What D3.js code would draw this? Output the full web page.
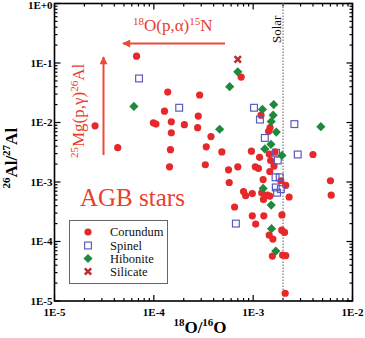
<!DOCTYPE html>
<html lang="en">
<head>
  <meta charset="utf-8">
  <title>26Al/27Al vs 18O/16O</title>
  <script src="https://cdn.jsdelivr.net/npm/d3@7/dist/d3.min.js"></script>
  <style>
    body { margin: 0; background: #fff; }
    svg { display: block; font-family: 'Liberation Serif', 'Times New Roman', serif; }
    .tick-label { font-size: 11px; font-weight: bold; fill: #000; }
    .axis-title { font-size: 17px; font-weight: bold; fill: #000; }
    .note { fill: #e8402f; }
  </style>
</head>
<body>
<div id="chart"></div>
<script>
// values: [18O/16O, 26Al/27Al]
const corundum = [
  [2.56e-5, 8.8e-3], [4.33e-5, 3.77e-3], [6.7e-5, 0.13], [1.38e-4, 3.24e-2], [1.28e-4, 1.55e-2],
  [9.9e-5, 9.9e-3], [1.05e-4, 9.4e-3], [1.5e-4, 1.03e-2], [1.5e-4, 6.7e-3], [1.47e-4, 3.5e-3],
  [1.44e-4, 1.8e-3], [2.03e-4, 9.2e-3], [2.89e-4, 2.9e-2], [2.8e-4, 1.28e-2], [2.76e-4, 8.2e-3],
  [3.76e-4, 5.8e-3], [3.37e-4, 3.9e-3], [3.3e-4, 1.95e-3], [4.84e-4, 3.2e-3], [7.57e-4, 5.8e-2],
  [5.65e-4, 1.6e-3], [5.74e-4, 9.8e-4], [7.0e-4, 1.8e-3], [6.5e-4, 3.8e-4], [8.0e-4, 6.9e-4],
  [8.4e-4, 5.9e-4], [9.8e-4, 6.4e-4], [9.6e-4, 3.3e-3], [9.8e-4, 2.7e-4], [1.06e-3, 1.96e-4],
  [1.05e-3, 1.8e-3], [1.13e-3, 1.7e-3], [1.16e-3, 2.6e-3], [1.2e-3, 1.33e-2], [1.26e-3, 1.1e-3],
  [1.22e-3, 6.6e-4], [1.27e-3, 5.1e-4], [1.28e-3, 2.7e-4], [1.39e-3, 6.0e-4], [1.43e-3, 7.1e-3],
  [1.48e-3, 8.2e-3], [1.45e-3, 2.95e-3], [1.5e-3, 2.3e-3], [1.47e-3, 1.5e-3], [1.47e-3, 5.8e-4],
  [1.45e-3, 1.28e-4], [1.58e-3, 1.1e-4], [1.56e-3, 5.7e-5], [1.62e-3, 1.85e-3], [1.66e-3, 3.2e-3],
  [1.9e-3, 1.05e-3], [1.95e-3, 2.8e-4], [1.94e-3, 1.55e-4], [2.07e-3, 1.42e-4], [1.98e-3, 5.9e-5],
  [2.13e-3, 5.8e-5], [2.1e-3, 1.35e-5], [2.13e-3, 8.8e-4], [2.3e-3, 5.6e-4], [4.0e-3, 2.9e-3],
  [6.0e-3, 1.05e-3], [6.1e-3, 6.0e-4]
];
const spinel = [
  [7.1e-5, 5.5e-2], [1.8e-4, 1.77e-2], [1.02e-3, 1.77e-2], [1.17e-3, 1.12e-2], [1.31e-3, 5.5e-3],
  [2.6e-3, 9.4e-3], [2.81e-3, 2.9e-3], [1.7e-3, 3.1e-3], [1.77e-3, 2.3e-3], [1.68e-3, 1.2e-3],
  [1.85e-3, 1.2e-3], [1.69e-3, 8.1e-4], [1.9e-3, 7.6e-4], [1.74e-3, 6.6e-4], [6.7e-4, 2.0e-4]
];
const hibonite = [
  [6.3e-5, 1.86e-2], [5.8e-4, 4.0e-2], [7.0e-4, 7.1e-2], [4.6e-4, 7.7e-3], [1.24e-3, 1.66e-2],
  [1.61e-3, 2.0e-2], [1.59e-3, 1.33e-2], [1.52e-3, 1.04e-2], [1.71e-3, 6.9e-3], [1.51e-3, 4.3e-3],
  [1.31e-3, 3.6e-3], [1.95e-3, 2.8e-3], [1.26e-3, 7.8e-4], [1.52e-3, 4.1e-4], [1.53e-3, 1.64e-4],
  [1.69e-3, 6.9e-5], [4.8e-3, 8.5e-3]
];
const silicate = [[7.0e-4, 0.115]];

const solarRatio = 2.0e-3;
const xTicks = [1e-5, 1e-4, 1e-3, 1e-2];
const xTickLabels = ["1E-5", "1E-4", "1E-3", "1E-2"];
const yTicks = [1e-5, 1e-4, 1e-3, 1e-2, 1e-1, 1];
const yTickLabels = ["1E-5", "1E-4", "1E-3", "1E-2", "1E-1", "1E+0"];
const legendNames = ["Corundum", "Spinel", "Hibonite", "Silicate"];

const W = 365, H = 338;
const pL = 54.5, pR = 352.5, pT = 3.5, pB = 301;

const RED = "#e6282b", BLUE = "#5a5cc0", GREEN = "#1f8a3e", DARKRED = "#bf2b2e";

const svg = d3.select("#chart").append("svg").attr("width", W).attr("height", H);

const x = d3.scaleLog().domain([1e-5, 1e-2]).range([pL, pR]);
const y = d3.scaleLog().domain([1e-5, 1]).range([pB, pT]);

// minor ticks for each decade
const minor = (lo, hi) => {
  const out = [];
  for (let e = lo; e < hi; e++) for (let k = 2; k <= 9; k++) out.push(k * Math.pow(10, e));
  return out;
};
const xMinor = minor(-5, -2), yMinor = minor(-5, 0);

// frame + inward ticks
const frame = svg.append("g").attr("stroke", "#000");
frame.append("rect").attr("x", pL).attr("y", pT).attr("width", pR - pL).attr("height", pB - pT)
  .attr("fill", "none").attr("stroke-width", 1.6);

const tickLen = (major) => major ? 6 : 3;
[[xTicks, true], [xMinor, false]].forEach(([arr, major]) => {
  frame.selectAll(null).data(arr).enter().append("line")
    .attr("x1", d => x(d)).attr("x2", d => x(d))
    .attr("y1", pB).attr("y2", pB - tickLen(major)).attr("stroke-width", 1.2);
  frame.selectAll(null).data(arr).enter().append("line")
    .attr("x1", d => x(d)).attr("x2", d => x(d))
    .attr("y1", pT).attr("y2", pT + tickLen(major)).attr("stroke-width", 1.2);
});
[[yTicks, true], [yMinor, false]].forEach(([arr, major]) => {
  frame.selectAll(null).data(arr).enter().append("line")
    .attr("y1", d => y(d)).attr("y2", d => y(d))
    .attr("x1", pL).attr("x2", pL + tickLen(major)).attr("stroke-width", 1.2);
  frame.selectAll(null).data(arr).enter().append("line")
    .attr("y1", d => y(d)).attr("y2", d => y(d))
    .attr("x1", pR).attr("x2", pR - tickLen(major)).attr("stroke-width", 1.2);
});

// tick labels
svg.append("g").selectAll("text").data(xTicks).enter().append("text")
  .attr("class", "tick-label").attr("x", d => x(d)).attr("y", pB + 14.5)
  .attr("text-anchor", "middle").text((d, i) => xTickLabels[i]);
svg.append("g").selectAll("text").data(yTicks).enter().append("text")
  .attr("class", "tick-label").attr("x", pL - 2).attr("y", d => Math.max(y(d), 5) + 3.5)
  .attr("text-anchor", "end").text((d, i) => yTickLabels[i]);

// axis titles
const xt = svg.append("text").attr("class", "axis-title").attr("x", 200).attr("y", 333).attr("text-anchor", "middle");
xt.append("tspan").attr("font-size", 11).attr("dy", -7).text("18");
xt.append("tspan").attr("dy", 7).text("O/");
xt.append("tspan").attr("font-size", 11).attr("dy", -7).text("16");
xt.append("tspan").attr("dy", 7).text("O");

const yt = svg.append("text").attr("class", "axis-title")
  .attr("transform", `translate(17,${(pT + pB) / 2 + 6}) rotate(-90)`).attr("text-anchor", "middle");
yt.append("tspan").attr("font-size", 11).attr("dy", -7).text("26");
yt.append("tspan").attr("dy", 7).text("Al/");
yt.append("tspan").attr("font-size", 11).attr("dy", -7).text("27");
yt.append("tspan").attr("dy", 7).text("Al");

// solar line
svg.append("line").attr("x1", x(solarRatio)).attr("x2", x(solarRatio))
  .attr("y1", pT).attr("y2", pB).attr("stroke", "#8a8a8a").attr("stroke-width", 1.4)
  .attr("stroke-dasharray", "1.5,1.5");
svg.append("text").attr("transform", `translate(${x(solarRatio) - 2},43) rotate(-90)`)
  .attr("font-size", 13).attr("fill", "#111").text("Solar");

// annotations
const defs = svg.append("defs");
defs.append("marker").attr("id", "ah").attr("viewBox", "0 0 10 10").attr("refX", 9).attr("refY", 5)
  .attr("markerWidth", 5).attr("markerHeight", 4).attr("orient", "auto")
  .append("path").attr("d", "M0,0 L10,5 L0,10 Z").attr("fill", "#ea4a36");

svg.append("line").attr("x1", 225).attr("y1", 43.5).attr("x2", 123).attr("y2", 43.5)
  .attr("stroke", "#ea4a36").attr("stroke-width", 2).attr("marker-end", "url(#ah)");
svg.append("line").attr("x1", 103.5).attr("y1", 155).attr("x2", 103.5).attr("y2", 57)
  .attr("stroke", "#ea4a36").attr("stroke-width", 2).attr("marker-end", "url(#ah)");

const t1 = svg.append("text").attr("class", "note").attr("x", 133).attr("y", 31).attr("font-size", 17);
t1.append("tspan").attr("font-size", 11).attr("dy", -6).text("18");
t1.append("tspan").attr("dy", 6).text("O(p,\u03b1)");
t1.append("tspan").attr("font-size", 11).attr("dy", -6).text("15");
t1.append("tspan").attr("dy", 6).text("N");

const t2 = svg.append("text").attr("class", "note").attr("font-size", 17)
  .attr("transform", "translate(84,158) rotate(-90)");
t2.append("tspan").attr("font-size", 11).attr("dy", -6).text("25");
t2.append("tspan").attr("dy", 6).text("Mg(p,\u03b3)");
t2.append("tspan").attr("font-size", 11).attr("dy", -6).text("26");
t2.append("tspan").attr("dy", 6).text("Al");

svg.append("text").attr("class", "note").attr("x", 80).attr("y", 206).attr("font-size", 25).text("AGB stars");

// symbols
const diamond = (cx, cy, r) => `M${cx},${cy - r}L${cx + r},${cy}L${cx},${cy + r}L${cx - r},${cy}Z`;
const cross = (cx, cy, r) => `M${cx - r},${cy - r}L${cx + r},${cy + r}M${cx - r},${cy + r}L${cx + r},${cy - r}`;

const marks = svg.append("g");
const drawCircles = (g, data) => g.selectAll(null).data(data).enter().append("circle")
  .attr("cx", d => d[0]).attr("cy", d => d[1]).attr("r", 3.6).attr("fill", RED);
const drawSquares = (g, data) => g.selectAll(null).data(data).enter().append("rect")
  .attr("x", d => d[0] - 3.4).attr("y", d => d[1] - 3.4).attr("width", 6.8).attr("height", 6.8)
  .attr("fill", "none").attr("stroke", BLUE).attr("stroke-width", 1.2);
const drawDiamonds = (g, data) => g.selectAll(null).data(data).enter().append("path")
  .attr("d", d => diamond(d[0], d[1], 4.6)).attr("fill", GREEN);
const drawCrosses = (g, data) => g.selectAll(null).data(data).enter().append("path")
  .attr("d", d => cross(d[0], d[1], 3.2)).attr("stroke", DARKRED).attr("stroke-width", 2.5).attr("fill", "none");

const px = arr => arr.map(d => [x(d[0]), y(d[1])]);
drawCircles(marks.append("g"), px(corundum));
drawSquares(marks.append("g"), px(spinel));
drawDiamonds(marks.append("g"), px(hibonite));
drawCrosses(marks.append("g"), px(silicate));

// legend
const lg = svg.append("g");
lg.append("rect").attr("x", 69.5).attr("y", 220.5).attr("width", 98).attr("height", 63)
  .attr("fill", "#fff").attr("stroke", "#666").attr("stroke-width", 1);
const rows = [232, 245.5, 258.5, 271.5];
const lx = 88;
drawCircles(lg, [[lx, rows[0]]]);
drawSquares(lg, [[lx, rows[1]]]);
drawDiamonds(lg, [[lx, rows[2]]]);
drawCrosses(lg, [[lx, rows[3]]]);
lg.selectAll("text.leg").data(legendNames).enter().append("text")
  .attr("x", 110).attr("y", (d, i) => rows[i] + 4).attr("font-size", 12.5).attr("fill", "#111").text(d => d);
</script>
</body>
</html>
